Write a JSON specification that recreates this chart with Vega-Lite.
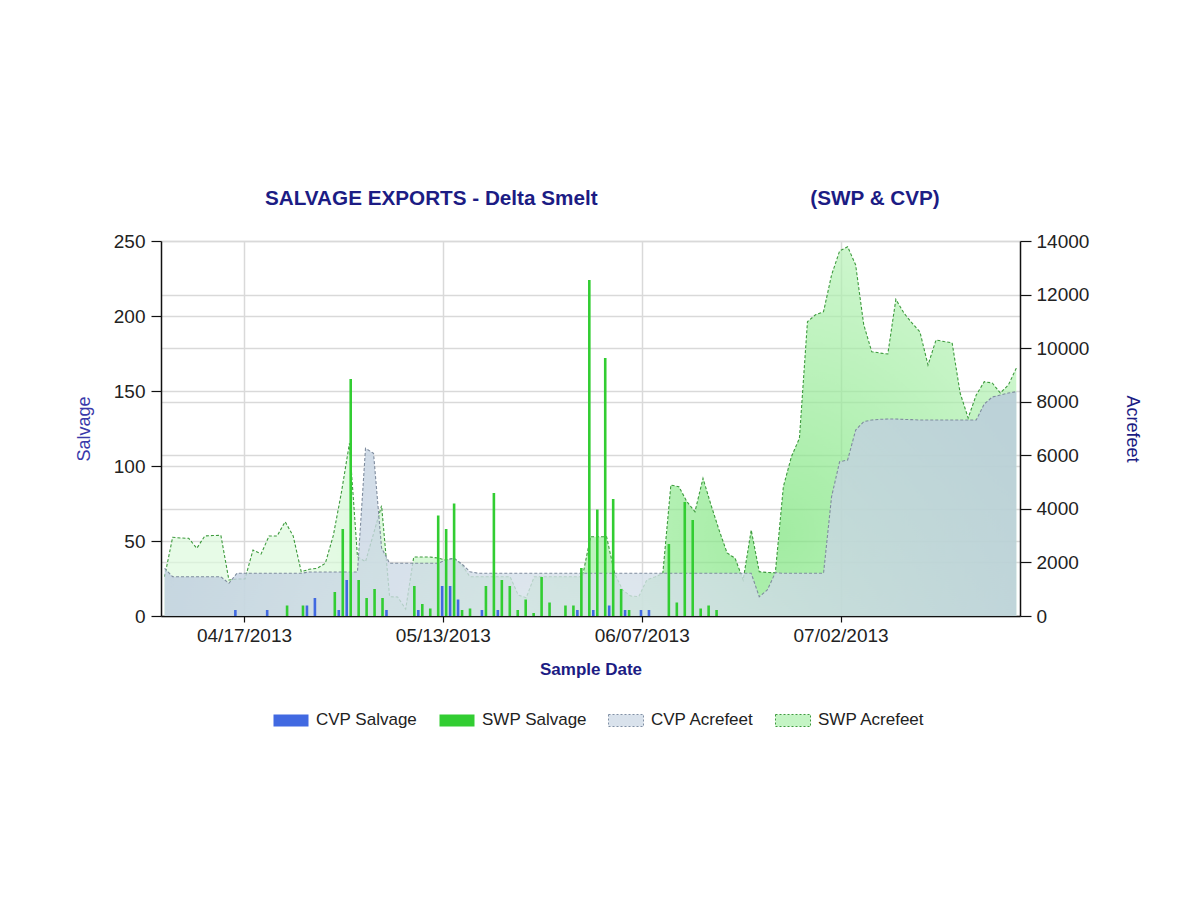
{
  "$schema": "https://vega.github.io/schema/vega-lite/v6.json",
  "width": 859,
  "height": 375,
  "padding": {"left": 75, "top": 188, "right": 5, "bottom": 5},
  "background": "white",
  "title": {
    "text": "SALVAGE EXPORTS - Delta Smelt\u00a0\u00a0\u00a0\u00a0\u00a0\u00a0\u00a0\u00a0\u00a0\u00a0\u00a0\u00a0\u00a0\u00a0\u00a0\u00a0\u00a0\u00a0\u00a0\u00a0\u00a0\u00a0\u00a0\u00a0\u00a0\u00a0\u00a0\u00a0\u00a0\u00a0\u00a0\u00a0\u00a0\u00a0\u00a0\u00a0\u00a0(SWP & CVP)",
    "anchor": "start",
    "frame": "group",
    "dx": 104,
    "offset": 22,
    "font": "Liberation Sans",
    "fontSize": 20.7,
    "fontWeight": "bold",
    "color": "#1c1c84"
  },
  "config": {
    "view": {"stroke": null},
    "axis": {
      "labelFont": "Liberation Sans",
      "labelFontSize": 19,
      "labelColor": "#222222",
      "domainColor": "#111111",
      "domainWidth": 1.5,
      "tickColor": "#111111",
      "tickWidth": 1.2,
      "gridColor": "#d9d9d9",
      "gridWidth": 1.5,
      "titleFont": "Liberation Sans"
    }
  },
  "data": {
    "values": [
      {"date": "04/07/2013", "cvp": 0, "swp": 0, "cvpAF": 1781, "swpAF": 1467},
      {"date": "04/08/2013", "cvp": 0, "swp": 0, "cvpAF": 1467, "swpAF": 2938},
      {"date": "04/09/2013", "cvp": 0, "swp": 0, "cvpAF": 1467, "swpAF": 2912},
      {"date": "04/10/2013", "cvp": 0, "swp": 0, "cvpAF": 1467, "swpAF": 2900},
      {"date": "04/11/2013", "cvp": 0, "swp": 0, "cvpAF": 1467, "swpAF": 2527},
      {"date": "04/12/2013", "cvp": 0, "swp": 0, "cvpAF": 1467, "swpAF": 2987},
      {"date": "04/13/2013", "cvp": 0, "swp": 0, "cvpAF": 1467, "swpAF": 3005},
      {"date": "04/14/2013", "cvp": 0, "swp": 0, "cvpAF": 1467, "swpAF": 3012},
      {"date": "04/15/2013", "cvp": 0, "swp": 0, "cvpAF": 1220, "swpAF": 1344},
      {"date": "04/16/2013", "cvp": 4, "swp": 0, "cvpAF": 1594, "swpAF": 1381},
      {"date": "04/17/2013", "cvp": 0, "swp": 0, "cvpAF": 1594, "swpAF": 1381},
      {"date": "04/18/2013", "cvp": 0, "swp": 0, "cvpAF": 1594, "swpAF": 2464},
      {"date": "04/19/2013", "cvp": 0, "swp": 0, "cvpAF": 1594, "swpAF": 2315},
      {"date": "04/20/2013", "cvp": 4, "swp": 0, "cvpAF": 1594, "swpAF": 2987},
      {"date": "04/21/2013", "cvp": 0, "swp": 0, "cvpAF": 1594, "swpAF": 2987},
      {"date": "04/22/2013", "cvp": 0, "swp": 7, "cvpAF": 1594, "swpAF": 3520},
      {"date": "04/23/2013", "cvp": 0, "swp": 0, "cvpAF": 1594, "swpAF": 2987},
      {"date": "04/24/2013", "cvp": 0, "swp": 7, "cvpAF": 1594, "swpAF": 1654},
      {"date": "04/25/2013", "cvp": 7, "swp": 0, "cvpAF": 1643, "swpAF": 1743},
      {"date": "04/26/2013", "cvp": 12, "swp": 0, "cvpAF": 1643, "swpAF": 1781},
      {"date": "04/27/2013", "cvp": 0, "swp": 0, "cvpAF": 1643, "swpAF": 1967},
      {"date": "04/28/2013", "cvp": 0, "swp": 16, "cvpAF": 1643, "swpAF": 3012},
      {"date": "04/29/2013", "cvp": 4, "swp": 58, "cvpAF": 1643, "swpAF": 4610},
      {"date": "04/30/2013", "cvp": 24, "swp": 158, "cvpAF": 1643, "swpAF": 6447},
      {"date": "05/01/2013", "cvp": 0, "swp": 24, "cvpAF": 1643, "swpAF": 2214},
      {"date": "05/02/2013", "cvp": 0, "swp": 12, "cvpAF": 6260, "swpAF": 2027},
      {"date": "05/03/2013", "cvp": 0, "swp": 18, "cvpAF": 6074, "swpAF": 3072},
      {"date": "05/04/2013", "cvp": 0, "swp": 12, "cvpAF": 2540, "swpAF": 4118},
      {"date": "05/06/2013", "cvp": 4, "swp": 0, "cvpAF": 1967, "swpAF": 720},
      {"date": "05/07/2013", "cvp": 0, "swp": 0, "cvpAF": 1967, "swpAF": 710},
      {"date": "05/08/2013", "cvp": 0, "swp": 0, "cvpAF": 1967, "swpAF": 260},
      {"date": "05/09/2013", "cvp": 0, "swp": 20, "cvpAF": 1967, "swpAF": 2200},
      {"date": "05/10/2013", "cvp": 4, "swp": 8, "cvpAF": 1967, "swpAF": 2200},
      {"date": "05/11/2013", "cvp": 0, "swp": 5, "cvpAF": 1967, "swpAF": 2200},
      {"date": "05/12/2013", "cvp": 0, "swp": 67, "cvpAF": 1967, "swpAF": 2165},
      {"date": "05/13/2013", "cvp": 20, "swp": 58, "cvpAF": 2090, "swpAF": 2090},
      {"date": "05/14/2013", "cvp": 20, "swp": 75, "cvpAF": 2154, "swpAF": 2154},
      {"date": "05/15/2013", "cvp": 11, "swp": 4, "cvpAF": 1941, "swpAF": 1904},
      {"date": "05/16/2013", "cvp": 0, "swp": 5, "cvpAF": 1654, "swpAF": 1467},
      {"date": "05/17/2013", "cvp": 0, "swp": 0, "cvpAF": 1594, "swpAF": 1467},
      {"date": "05/18/2013", "cvp": 4, "swp": 20, "cvpAF": 1594, "swpAF": 1467},
      {"date": "05/19/2013", "cvp": 0, "swp": 82, "cvpAF": 1594, "swpAF": 1467},
      {"date": "05/20/2013", "cvp": 4, "swp": 24, "cvpAF": 1594, "swpAF": 1467},
      {"date": "05/21/2013", "cvp": 0, "swp": 20, "cvpAF": 1594, "swpAF": 1467},
      {"date": "05/22/2013", "cvp": 0, "swp": 4, "cvpAF": 1594, "swpAF": 784},
      {"date": "05/23/2013", "cvp": 0, "swp": 11, "cvpAF": 1594, "swpAF": 683},
      {"date": "05/24/2013", "cvp": 0, "swp": 2, "cvpAF": 1594, "swpAF": 1467},
      {"date": "05/25/2013", "cvp": 0, "swp": 26, "cvpAF": 1594, "swpAF": 1467},
      {"date": "05/26/2013", "cvp": 0, "swp": 9, "cvpAF": 1594, "swpAF": 1467},
      {"date": "05/27/2013", "cvp": 0, "swp": 0, "cvpAF": 1594, "swpAF": 1467},
      {"date": "05/28/2013", "cvp": 0, "swp": 7, "cvpAF": 1594, "swpAF": 1467},
      {"date": "05/29/2013", "cvp": 0, "swp": 7, "cvpAF": 1594, "swpAF": 1467},
      {"date": "05/30/2013", "cvp": 4, "swp": 32, "cvpAF": 1594, "swpAF": 1467},
      {"date": "05/31/2013", "cvp": 0, "swp": 224, "cvpAF": 1594, "swpAF": 2960},
      {"date": "06/01/2013", "cvp": 4, "swp": 71, "cvpAF": 1594, "swpAF": 2960},
      {"date": "06/02/2013", "cvp": 0, "swp": 172, "cvpAF": 1594, "swpAF": 2960},
      {"date": "06/03/2013", "cvp": 7, "swp": 78, "cvpAF": 1594, "swpAF": 1594},
      {"date": "06/04/2013", "cvp": 0, "swp": 18, "cvpAF": 1594, "swpAF": 970},
      {"date": "06/05/2013", "cvp": 4, "swp": 4, "cvpAF": 1594, "swpAF": 747},
      {"date": "06/06/2013", "cvp": 0, "swp": 0, "cvpAF": 1594, "swpAF": 720},
      {"date": "06/07/2013", "cvp": 4, "swp": 0, "cvpAF": 1594, "swpAF": 1344},
      {"date": "06/08/2013", "cvp": 4, "swp": 0, "cvpAF": 1594, "swpAF": 1456},
      {"date": "06/09/2013", "cvp": 0, "swp": 0, "cvpAF": 1594, "swpAF": 1594},
      {"date": "06/10/2013", "cvp": 0, "swp": 48, "cvpAF": 1594, "swpAF": 4890},
      {"date": "06/11/2013", "cvp": 0, "swp": 9, "cvpAF": 1594, "swpAF": 4827},
      {"date": "06/12/2013", "cvp": 0, "swp": 76, "cvpAF": 1594, "swpAF": 4267},
      {"date": "06/13/2013", "cvp": 0, "swp": 64, "cvpAF": 1594, "swpAF": 3894},
      {"date": "06/14/2013", "cvp": 0, "swp": 5, "cvpAF": 1594, "swpAF": 5141},
      {"date": "06/15/2013", "cvp": 0, "swp": 7, "cvpAF": 1594, "swpAF": 4144},
      {"date": "06/16/2013", "cvp": 0, "swp": 4, "cvpAF": 1594, "swpAF": 3211},
      {"date": "06/17/2013", "cvp": 0, "swp": 0, "cvpAF": 1594, "swpAF": 2352},
      {"date": "06/18/2013", "cvp": 0, "swp": 0, "cvpAF": 1594, "swpAF": 2154},
      {"date": "06/19/2013", "cvp": 0, "swp": 0, "cvpAF": 1594, "swpAF": 1344},
      {"date": "06/20/2013", "cvp": 0, "swp": 0, "cvpAF": 1594, "swpAF": 3211},
      {"date": "06/21/2013", "cvp": 0, "swp": 0, "cvpAF": 720, "swpAF": 1654},
      {"date": "06/22/2013", "cvp": 0, "swp": 0, "cvpAF": 970, "swpAF": 1624},
      {"date": "06/23/2013", "cvp": 0, "swp": 0, "cvpAF": 1617, "swpAF": 1617},
      {"date": "06/24/2013", "cvp": 0, "swp": 0, "cvpAF": 1594, "swpAF": 4827},
      {"date": "06/25/2013", "cvp": 0, "swp": 0, "cvpAF": 1594, "swpAF": 5947},
      {"date": "06/26/2013", "cvp": 0, "swp": 0, "cvpAF": 1594, "swpAF": 6634},
      {"date": "06/27/2013", "cvp": 0, "swp": 0, "cvpAF": 1594, "swpAF": 10987},
      {"date": "06/28/2013", "cvp": 0, "swp": 0, "cvpAF": 1594, "swpAF": 11245},
      {"date": "06/29/2013", "cvp": 0, "swp": 0, "cvpAF": 1594, "swpAF": 11360},
      {"date": "06/30/2013", "cvp": 0, "swp": 0, "cvpAF": 4454, "swpAF": 12730},
      {"date": "07/01/2013", "cvp": 0, "swp": 0, "cvpAF": 5760, "swpAF": 13627},
      {"date": "07/02/2013", "cvp": 0, "swp": 0, "cvpAF": 5824, "swpAF": 13787},
      {"date": "07/03/2013", "cvp": 0, "swp": 0, "cvpAF": 6944, "swpAF": 13104},
      {"date": "07/04/2013", "cvp": 0, "swp": 0, "cvpAF": 7254, "swpAF": 10882},
      {"date": "07/05/2013", "cvp": 0, "swp": 0, "cvpAF": 7317, "swpAF": 9867},
      {"date": "07/06/2013", "cvp": 0, "swp": 0, "cvpAF": 7343, "swpAF": 9819},
      {"date": "07/07/2013", "cvp": 0, "swp": 0, "cvpAF": 7354, "swpAF": 9781},
      {"date": "07/08/2013", "cvp": 0, "swp": 0, "cvpAF": 7354, "swpAF": 11823},
      {"date": "07/09/2013", "cvp": 0, "swp": 0, "cvpAF": 7340, "swpAF": 11312},
      {"date": "07/10/2013", "cvp": 0, "swp": 0, "cvpAF": 7330, "swpAF": 10939},
      {"date": "07/11/2013", "cvp": 0, "swp": 0, "cvpAF": 7317, "swpAF": 10603},
      {"date": "07/12/2013", "cvp": 0, "swp": 0, "cvpAF": 7317, "swpAF": 9371},
      {"date": "07/13/2013", "cvp": 0, "swp": 0, "cvpAF": 7317, "swpAF": 10304},
      {"date": "07/14/2013", "cvp": 0, "swp": 0, "cvpAF": 7317, "swpAF": 10248},
      {"date": "07/15/2013", "cvp": 0, "swp": 0, "cvpAF": 7317, "swpAF": 10203},
      {"date": "07/16/2013", "cvp": 0, "swp": 0, "cvpAF": 7317, "swpAF": 8325},
      {"date": "07/17/2013", "cvp": 0, "swp": 0, "cvpAF": 7317, "swpAF": 7392},
      {"date": "07/18/2013", "cvp": 0, "swp": 0, "cvpAF": 7317, "swpAF": 8250},
      {"date": "07/19/2013", "cvp": 0, "swp": 0, "cvpAF": 7915, "swpAF": 8747},
      {"date": "07/20/2013", "cvp": 0, "swp": 0, "cvpAF": 8176, "swpAF": 8699},
      {"date": "07/21/2013", "cvp": 0, "swp": 0, "cvpAF": 8250, "swpAF": 8325},
      {"date": "07/22/2013", "cvp": 0, "swp": 0, "cvpAF": 8325, "swpAF": 8624},
      {"date": "07/23/2013", "cvp": 0, "swp": 0, "cvpAF": 8374, "swpAF": 9259},
      {"date": "07/24/2013", "cvp": 0, "swp": 0, "cvpAF": null, "swpAF": null}
    ]
  },
  "layer": [
    {
      "transform": [{"filter": "datum.cvpAF != null"}],
      "encoding": {
        "x": {"field": "date", "type": "ordinal", "sort": null, "scale": {"type": "point", "padding": 0.45}, "axis": null}
      },
      "layer": [
        {
          "mark": {
            "type": "area",
            "fill": {"gradient": "radial", "x1": 0.72, "y1": 0.62, "r1": 0, "x2": 0.72, "y2": 0.62, "r2": 0.55,
              "stops": [{"offset": 0, "color": "#7ae47a"}, {"offset": 0.5, "color": "#abefab"}, {"offset": 1, "color": "#dcf9dc"}]},
            "line": {"stroke": "#3d9a3d", "strokeWidth": 1.1, "strokeDash": [3, 2]}
          },
          "encoding": {
            "y": {"field": "swpAF", "type": "quantitative", "scale": {"domain": [0, 14000], "nice": false},
              "axis": {"orient": "right", "values": [0, 2000, 4000, 6000, 8000, 10000, 12000, 14000], "format": "d", "grid": true, "tickSize": 11, "labelPadding": 5,
                "title": "Acrefeet", "titleColor": "#1c1c84", "titleFontSize": 18, "titleFontWeight": "normal", "titlePadding": 34}}
          }
        },
        {
          "mark": {
            "type": "area",
            "fill": {"gradient": "radial", "x1": 0.5, "y1": 0.75, "r1": 0, "x2": 0.5, "y2": 0.75, "r2": 0.6,
              "stops": [{"offset": 0, "color": "#dfe8ee"}, {"offset": 1, "color": "#b9c9dc"}]},
            "fillOpacity": 0.8,
            "line": {"stroke": "#7f8c9e", "strokeWidth": 1.1, "strokeDash": [3, 2]}
          },
          "encoding": {
            "y": {"field": "cvpAF", "type": "quantitative", "scale": {"domain": [0, 14000], "nice": false},
              "axis": {"orient": "right", "values": [0, 2000, 4000, 6000, 8000, 10000, 12000, 14000], "format": "d", "grid": true, "tickSize": 11, "labelPadding": 5,
                "title": "Acrefeet", "titleColor": "#1c1c84", "titleFontSize": 18, "titleFontWeight": "normal", "titlePadding": 34}}
          }
        }
      ]
    },
    {
      "encoding": {
        "x": {"field": "date", "type": "ordinal", "sort": null, "scale": {"type": "band", "paddingInner": 0, "paddingOuter": 0},
          "axis": {"values": ["04/17/2013", "05/13/2013", "06/07/2013", "07/02/2013"], "labelAngle": 0, "grid": true, "tickSize": 6, "labelPadding": 4,
            "title": "Sample Date", "titleColor": "#1c1c84", "titleFontSize": 17, "titleFontWeight": "bold", "titlePadding": 16}}
      },
      "layer": [
        {
          "mark": {"type": "bar", "width": 2.6, "xOffset": -1.2},
          "encoding": {
            "y": {"field": "cvp", "type": "quantitative", "scale": {"domain": [0, 250], "nice": false},
              "axis": {"orient": "left", "values": [0, 50, 100, 150, 200, 250], "grid": true, "tickSize": 10, "labelPadding": 6,
                "title": "Salvage", "titleColor": "#3a3aaa", "titleFontSize": 18, "titleFontWeight": "normal", "titlePadding": 20}},
            "color": {"datum": "CVP Salvage", "type": "nominal",
              "scale": {"domain": ["CVP Salvage", "SWP Salvage", "CVP Acrefeet", "SWP Acrefeet"], "range": ["#4169e1", "#32cd32", "#d9e2ec", "#c4f4c4"]},
              "legend": {
                "orient": "none", "legendX": 112, "legendY": 461, "direction": "horizontal", "columns": 4, "title": null,
                "padding": 0, "symbolType": "M-1,-0.343H1V0.343H-1Z", "symbolSize": 1225, "symbolStrokeWidth": 1,
                "labelFont": "Liberation Sans", "labelFontSize": 17, "labelColor": "#222222", "labelOffset": 7, "columnPadding": 19, "labelLimit": 200,
                "encode": {"symbols": {"update": {
                  "stroke": {"signal": "datum.value === 'CVP Acrefeet' ? '#8190a5' : datum.value === 'SWP Acrefeet' ? '#3d9a3d' : 'transparent'"},
                  "strokeDash": {"signal": "indexof(datum.value, 'Acrefeet') >= 0 ? [2, 2] : [1, 0]"},
                  "opacity": {"value": 1}
                }}}
              }}
          }
        },
        {
          "mark": {"type": "bar", "width": 2.6, "xOffset": 2.8},
          "encoding": {
            "y": {"field": "swp", "type": "quantitative", "scale": {"domain": [0, 250], "nice": false},
              "axis": {"orient": "left", "values": [0, 50, 100, 150, 200, 250], "grid": true, "tickSize": 10, "labelPadding": 6,
                "title": "Salvage", "titleColor": "#3a3aaa", "titleFontSize": 18, "titleFontWeight": "normal", "titlePadding": 20}},
            "color": {"datum": "SWP Salvage", "type": "nominal"}
          }
        }
      ]
    }
  ],
  "resolve": {"scale": {"x": "independent", "y": "independent"}}
}
